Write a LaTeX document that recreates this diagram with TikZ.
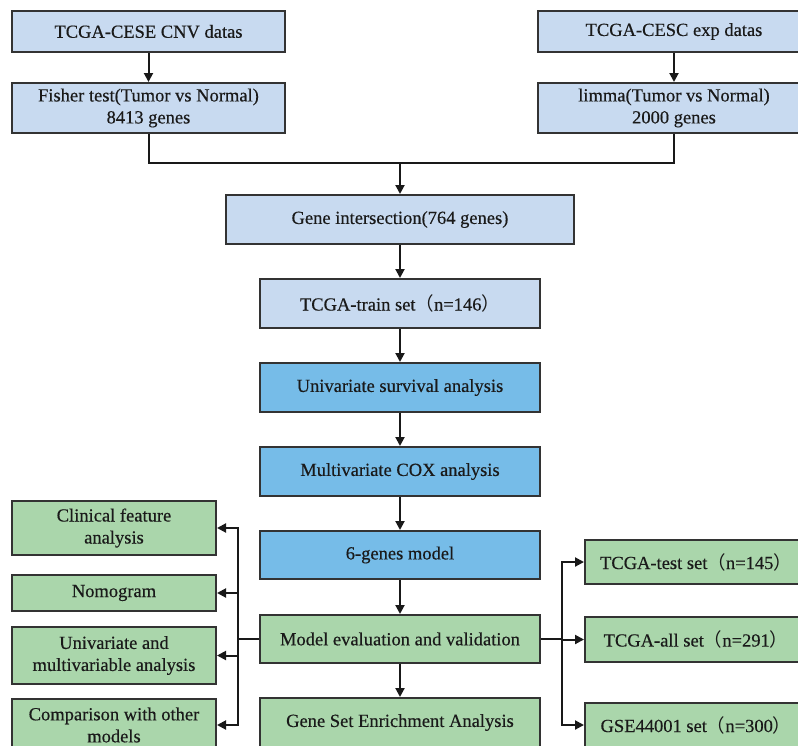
\documentclass[tikz,border=0pt]{standalone}
\usepackage{fontspec}
\setmainfont{Liberation Serif}[BoldFont=Liberation Serif, BoldFeatures={FakeBold=0.4}]
\newfontfamily\cjk{Noto Sans CJK SC}
\usetikzlibrary{arrows.meta}
\definecolor{lblue}{HTML}{C8DAF0}
\definecolor{mblue}{HTML}{76BCE8}
\definecolor{lgreen}{HTML}{AAD6AB}
\definecolor{edgec}{HTML}{333333}
\definecolor{txt}{HTML}{1A1A1A}
\begin{document}
\begin{tikzpicture}[x=1pt,y=-1pt,
  box/.style={draw=edgec, line width=2pt, align=center, inner sep=0pt,
    font=\fontsize{18.5}{22}\selectfont\bfseries, text=txt},
  lb/.style={box, fill=lblue},
  mb/.style={box, fill=mblue},
  gb/.style={box, fill=lgreen},
  conn/.style={draw=black!90, line width=2pt},
  arr/.style={conn, -{Triangle[length=9pt,width=9pt]}}
]
\useasboundingbox (0,0) rectangle (798,745);

% top row
\node[lb, minimum width=273pt, minimum height=41pt] (cnv) at (148.5,31.5) {TCGA-CESE CNV datas};
\node[lb, minimum width=273pt, minimum height=50pt] (fisher) at (148.5,108) {Fisher test(Tumor vs Normal)\\8413 genes};
\node[lb, minimum width=272pt, minimum height=41pt] (exp) at (674,31.5) {TCGA-CESC exp datas};
\node[lb, minimum width=272pt, minimum height=50pt] (limma) at (674,108) {limma(Tumor vs Normal)\\2000 genes};

% main column
\node[lb, minimum width=348pt, minimum height=49pt] (gi) at (400,219.5) {Gene intersection(764 genes)};
\node[lb, minimum width=280pt, minimum height=49pt] (train) at (400,303.5) {TCGA-train set{\cjk\mdseries （}n=146{\cjk\mdseries ）}};
\node[mb, minimum width=280pt, minimum height=49pt] (uni) at (400,387.5) {Univariate survival analysis};
\node[mb, minimum width=280pt, minimum height=49pt] (multi) at (400,471.5) {Multivariate COX analysis};
\node[mb, minimum width=280pt, minimum height=48pt] (six) at (400,555) {6-genes model};
\node[gb, minimum width=280pt, minimum height=48pt] (eval) at (400,639) {Model evaluation and validation};
\node[gb, minimum width=280pt, minimum height=49pt] (gsea) at (400,722.5) {Gene Set Enrichment Analysis};

% left column
\node[gb, minimum width=204pt, minimum height=54pt] (clin) at (114,528) {Clinical feature\\analysis};
\node[gb, minimum width=204pt, minimum height=36pt] (nomo) at (114,593) {Nomogram};
\node[gb, minimum width=204pt, minimum height=57pt] (univ) at (114,655.5) {Univariate and\\multivariable analysis};
\node[gb, minimum width=204pt, minimum height=52pt] (comp) at (114,725) {Comparison with other\\models};

% right column
\node[gb, minimum width=222pt, minimum height=44pt] (test) at (696,562) {TCGA-test set{\cjk\mdseries （}n=145{\cjk\mdseries ）}};
\node[gb, minimum width=222pt, minimum height=45pt] (all) at (696,639.5) {TCGA-all set{\cjk\mdseries （}n=291{\cjk\mdseries ）}};
\node[gb, minimum width=222pt, minimum height=44pt] (gse) at (696,725) {GSE44001 set{\cjk\mdseries （}n=300{\cjk\mdseries ）}};

% connectors
\draw[arr] (cnv) -- (fisher);
\draw[arr] (exp) -- (limma);
\coordinate (m) at (400,163);
\draw[conn] (fisher.south) |- (m) -| (limma.south);
\draw[arr] (m) -- (gi);
\draw[arr] (gi) -- (train);
\draw[arr] (train) -- (uni);
\draw[arr] (uni) -- (multi);
\draw[arr] (multi) -- (six);
\draw[arr] (six) -- (eval);
\draw[arr] (eval) -- (gsea);

\coordinate (lbus) at (238,639);
\draw[conn] (eval.west) -- (lbus);
\draw[arr] (lbus) |- (clin.east);
\draw[arr] (lbus) |- (nomo.east);
\draw[arr] (lbus) |- (univ.east);
\draw[arr] (lbus) |- (comp.east);

\coordinate (rbus) at (562,639);
\draw[conn] (eval.east) -- (rbus);
\draw[arr] (rbus) |- (test.west);
\draw[arr] (rbus) |- (all.west);
\draw[arr] (rbus) |- (gse.west);
\end{tikzpicture}
\end{document}
